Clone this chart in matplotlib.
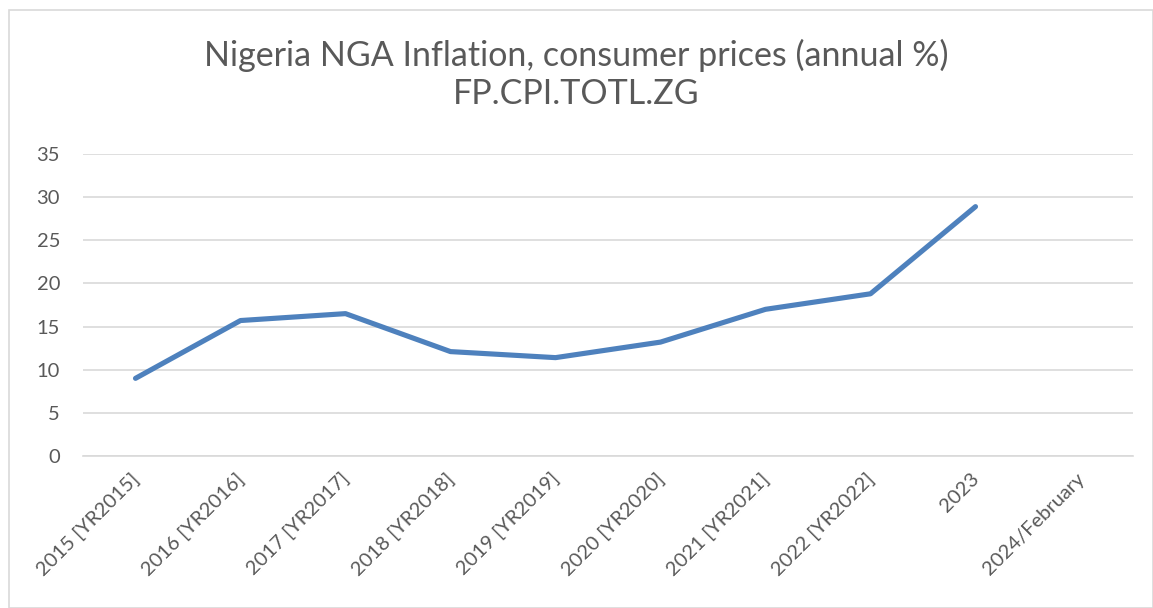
import matplotlib
matplotlib.use("Agg")
import matplotlib.pyplot as plt
import matplotlib.transforms as mtransforms
from matplotlib.patches import Rectangle

categories = ["2015 [YR2015]", "2016 [YR2016]", "2017 [YR2017]", "2018 [YR2018]",
              "2019 [YR2019]", "2020 [YR2020]", "2021 [YR2021]", "2022 [YR2022]",
              "2023", "2024/February"]
values = [9.0, 15.7, 16.5, 12.1, 11.4, 13.2, 17.0, 18.8, 28.9, None]
yticks = [0, 5, 10, 15, 20, 25, 30, 35]

plt.rcParams['font.family'] = ['Lato', 'DejaVu Sans']

W, H = 1153, 608
fig = plt.figure(figsize=(W / 100, H / 100), dpi=100)
fig.patch.set_facecolor('white')

# chart border
fig.patches.append(Rectangle((9 / W, 0), (W - 9) / W, (H - 10) / H, transform=fig.transFigure,
                             fill=False, edgecolor='#d9d9d9', linewidth=1.2))

left, right = 83, 1133
top, bottom = 154, 456
ax = fig.add_axes([left / W, 1 - bottom / H, (right - left) / W, (bottom - top) / H])

xs = [i for i, v in enumerate(values) if v is not None]
ys = [v for v in values if v is not None]
ax.plot(xs, ys, color='#4e81bd', linewidth=3.7, solid_capstyle='round', solid_joinstyle='round', zorder=3)

ax.set_xlim(-0.5, len(categories) - 0.5)
ax.set_ylim(0, 35)
ax.set_yticks(yticks)
ax.set_xticks(range(len(categories)))
ax.set_xticklabels(categories, rotation=45, ha='right', rotation_mode='anchor')
ax.grid(axis='y', color='#d9d9d9', linewidth=1.2, zorder=0)
ax.set_axisbelow(True)
for s in ['top', 'right', 'left']:
    ax.spines[s].set_visible(False)
ax.spines['bottom'].set_color('#d9d9d9')
ax.spines['bottom'].set_linewidth(1.2)
ax.tick_params(axis='y', length=0, labelsize=14.5, colors='#595959', pad=16.5)
ax.tick_params(axis='x', length=0, labelsize=14.5, colors='#595959', pad=10)

offset = mtransforms.ScaledTranslation(-5 / 100, 0, fig.dpi_scale_trans)
for lbl in ax.get_xticklabels():
    lbl.set_transform(lbl.get_transform() + offset)

fig.text(0.5, 1 - 55 / H, "Nigeria NGA Inflation, consumer prices (annual %)", ha='center', va='center',
         fontsize=24.5, color='#595959')
fig.text(0.5, 1 - 94 / H, "FP.CPI.TOTL.ZG", ha='center', va='center',
         fontsize=24.5, color='#595959')

fig.savefig("out.png", dpi=100)
